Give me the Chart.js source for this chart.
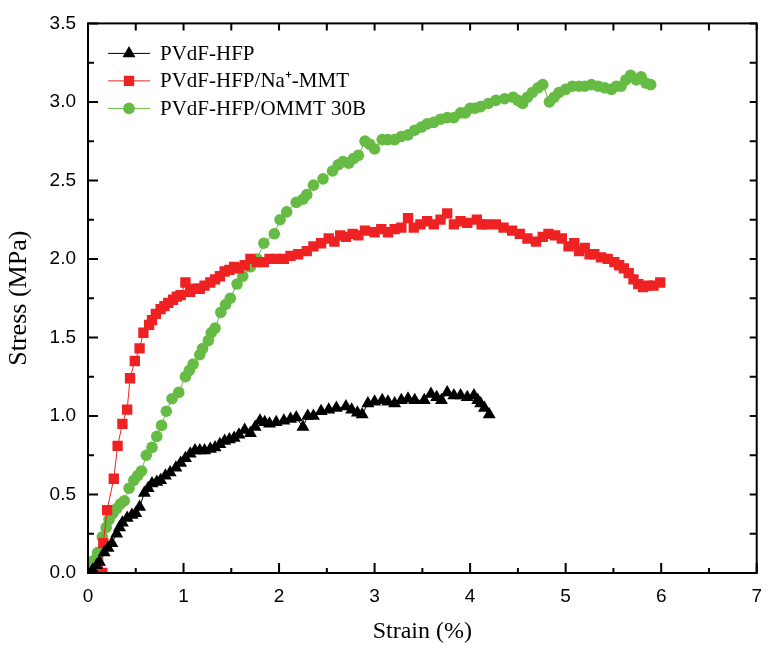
<!DOCTYPE html>
<html>
<head>
<meta charset="utf-8">
<script src="https://cdn.jsdelivr.net/npm/chart.js@4.4.0/dist/chart.umd.min.js"></script>
<style>
  body { margin: 0; background: #fff; }
  #wrap { width: 774px; height: 651px; }
</style>
</head>
<body>
<div id="wrap"><canvas id="stressChart"></canvas></div>
<script>
// Stress-strain curves
const seriesNames = ['PVdF-HFP', 'PVdF-HFP/Na\u207A-MMT', 'PVdF-HFP/OMMT 30B'];

const pvdfStrain = [0.03, 0.05, 0.09, 0.12, 0.17, 0.21, 0.25, 0.30, 0.33, 0.36, 0.41, 0.46, 0.50, 0.54, 0.59, 0.63, 0.67, 0.72, 0.76, 0.81,
  0.86, 0.92, 0.97, 1.02, 1.07, 1.12, 1.17, 1.22, 1.28, 1.33, 1.38, 1.43, 1.48, 1.53, 1.58, 1.64, 1.70, 1.75, 1.80, 1.85,
  1.90, 1.97, 2.05, 2.12, 2.18, 2.25, 2.30, 2.36, 2.44, 2.52, 2.60, 2.70, 2.76, 2.82, 2.87, 2.93, 3.00, 3.08, 3.14, 3.21,
  3.28, 3.35, 3.42, 3.52, 3.59, 3.65, 3.70, 3.76, 3.83, 3.90, 3.97, 4.04, 4.08, 4.11, 4.15, 4.20];
const pvdfStress = [0.00, 0.02, 0.05, 0.07, 0.13, 0.16, 0.19, 0.25, 0.29, 0.32, 0.35, 0.37, 0.38, 0.42, 0.51, 0.54, 0.57, 0.58, 0.59, 0.62,
  0.64, 0.67, 0.70, 0.73, 0.76, 0.78, 0.78, 0.78, 0.79, 0.80, 0.82, 0.84, 0.85, 0.86, 0.88, 0.91, 0.89, 0.93, 0.97, 0.96,
  0.95, 0.96, 0.97, 0.98, 0.99, 0.93, 1.00, 1.00, 1.03, 1.04, 1.05, 1.06, 1.04, 1.02, 1.01, 1.08, 1.09, 1.10, 1.09, 1.08,
  1.10, 1.11, 1.10, 1.10, 1.14, 1.12, 1.10, 1.15, 1.13, 1.13, 1.12, 1.13, 1.10, 1.08, 1.05, 1.01];

const naStrain = [0.15, 0.16, 0.20, 0.27, 0.31, 0.36, 0.41, 0.44, 0.49, 0.54, 0.58, 0.64, 0.67, 0.71, 0.76, 0.80, 0.84, 0.89, 0.93, 0.97,
  1.02, 1.07, 1.12, 1.17, 1.22, 1.28, 1.33, 1.38, 1.43, 1.48, 1.53, 1.58, 1.64, 1.70, 1.77, 1.84, 1.90, 1.97, 2.05, 2.12,
  2.20, 2.29, 2.36, 2.44, 2.52, 2.58, 2.64, 2.70, 2.77, 2.83, 2.90, 3.00, 3.07, 3.14, 3.21, 3.28, 3.35, 3.41, 3.48, 3.55,
  3.62, 3.69, 3.76, 3.83, 3.90, 3.97, 4.07, 4.12, 4.17, 4.27, 4.35, 4.44, 4.52, 4.60, 4.69, 4.76, 4.82, 4.89, 4.96, 5.03,
  5.09, 5.14, 5.20, 5.25, 5.30, 5.37, 5.44, 5.51, 5.56, 5.61, 5.66, 5.71, 5.76, 5.81, 5.86, 5.92, 5.99];
const naStress = [0.00, 0.19, 0.40, 0.60, 0.81, 0.95, 1.04, 1.24, 1.35, 1.43, 1.53, 1.58, 1.61, 1.65, 1.68, 1.70, 1.72, 1.74, 1.76, 1.77,
  1.85, 1.79, 1.81, 1.81, 1.83, 1.85, 1.87, 1.89, 1.92, 1.93, 1.95, 1.94, 1.96, 2.00, 1.98, 1.98, 2.00, 2.00, 2.00, 2.02,
  2.03, 2.05, 2.08, 2.10, 2.13, 2.11, 2.15, 2.14, 2.16, 2.15, 2.18, 2.17, 2.19, 2.17, 2.19, 2.20, 2.26, 2.20, 2.22, 2.24,
  2.22, 2.25, 2.29, 2.22, 2.24, 2.23, 2.25, 2.22, 2.22, 2.22, 2.20, 2.18, 2.16, 2.13, 2.11, 2.14, 2.16, 2.15, 2.13, 2.08,
  2.10, 2.05, 2.07, 2.03, 2.03, 2.01, 2.00, 1.98, 1.96, 1.94, 1.91, 1.87, 1.84, 1.82, 1.83, 1.83, 1.85];

const ommtStrain = [0.02, 0.06, 0.10, 0.15, 0.19, 0.22, 0.26, 0.30, 0.34, 0.38, 0.43, 0.48, 0.52, 0.56, 0.61, 0.67, 0.72, 0.77, 0.82, 0.88,
  0.95, 1.02, 1.06, 1.10, 1.17, 1.20, 1.26, 1.29, 1.33, 1.39, 1.44, 1.49, 1.56, 1.62, 1.70, 1.77, 1.84, 1.95, 2.01, 2.08,
  2.18, 2.25, 2.29, 2.36, 2.46, 2.56, 2.62, 2.67, 2.73, 2.78, 2.83, 2.90, 2.95, 3.00, 3.08, 3.14, 3.21, 3.28, 3.35, 3.42,
  3.49, 3.55, 3.62, 3.69, 3.76, 3.83, 3.90, 3.95, 4.00, 4.05, 4.11, 4.19, 4.27, 4.36, 4.45, 4.50, 4.55, 4.60, 4.65, 4.71,
  4.76, 4.83, 4.88, 4.93, 5.00, 5.07, 5.14, 5.20, 5.27, 5.34, 5.41, 5.48, 5.53, 5.58, 5.63, 5.68, 5.74, 5.79, 5.84, 5.89];
const ommtStress = [0.02, 0.08, 0.13, 0.23, 0.29, 0.34, 0.38, 0.41, 0.44, 0.46, 0.54, 0.59, 0.62, 0.65, 0.75, 0.80, 0.87, 0.94, 1.03, 1.11,
  1.15, 1.25, 1.29, 1.33, 1.39, 1.43, 1.48, 1.53, 1.56, 1.66, 1.71, 1.75, 1.84, 1.89, 1.95, 2.00, 2.10, 2.16, 2.25, 2.30,
  2.36, 2.38, 2.41, 2.47, 2.51, 2.56, 2.60, 2.62, 2.61, 2.64, 2.66, 2.75, 2.73, 2.70, 2.76, 2.76, 2.76, 2.78, 2.79, 2.82,
  2.84, 2.86, 2.87, 2.89, 2.90, 2.90, 2.93, 2.93, 2.96, 2.96, 2.97, 2.99, 3.01, 3.02, 3.03, 3.01, 2.99, 3.03, 3.06, 3.09,
  3.11, 3.00, 3.03, 3.06, 3.08, 3.10, 3.10, 3.10, 3.11, 3.10, 3.09, 3.08, 3.10, 3.10, 3.14, 3.17, 3.14, 3.16, 3.12, 3.11];

const toPoints = (xs, ys) => xs.map((v, i) => ({ x: v, y: ys[i] }));

// box frame with inward ticks on all four sides
const framePlugin = {
  id: 'frame',
  afterDatasetsDraw(chart) {
    const { ctx, chartArea: a, scales: { x, y } } = chart;
    ctx.save();
    ctx.strokeStyle = '#000';
    ctx.lineWidth = 2;
    ctx.strokeRect(a.left, a.top, a.right - a.left, a.bottom - a.top);
    ctx.beginPath();
    for (let v = 0; v <= 7.001; v += 0.5) {
      const px = x.getPixelForValue(v);
      const len = Math.abs(v % 1) < 0.01 ? 10 : 5;
      ctx.moveTo(px, a.bottom); ctx.lineTo(px, a.bottom - len);
      ctx.moveTo(px, a.top); ctx.lineTo(px, a.top + 7);
    }
    for (let v = 0; v <= 3.501; v += 0.25) {
      const py = y.getPixelForValue(v);
      const len = Math.abs((v * 2) % 1) < 0.01 ? 10 : 6;
      ctx.moveTo(a.left, py); ctx.lineTo(a.left + len, py);
      ctx.moveTo(a.right, py); ctx.lineTo(a.right - 7, py);
    }
    ctx.stroke();
    ctx.restore();
  }
};

// legend drawn inside the plot, line-marker-line samples
const insideLegend = {
  id: 'insideLegend',
  afterDatasetsDraw(chart) {
    const { ctx, chartArea: a } = chart;
    ctx.save();
    ctx.font = '21px "Liberation Serif", "Times New Roman", serif';
    ctx.textBaseline = 'middle';
    chart.data.datasets.forEach((ds, i) => {
      const yy = a.top + 30 + i * 27.5;
      const x0 = a.left + 20;
      ctx.strokeStyle = ds.borderColor;
      ctx.lineWidth = 1;
      ctx.beginPath();
      ctx.moveTo(x0, yy); ctx.lineTo(x0 + 42, yy);
      ctx.stroke();
      ctx.fillStyle = ds.backgroundColor;
      Chart.helpers.drawPoint(ctx, { pointStyle: ds.pointStyle, radius: ds.pointRadius, rotation: 0, borderWidth: 0 }, x0 + 21, yy);
      ctx.fillStyle = '#000';
      ctx.fillText(ds.label, x0 + 52, yy + 1);
    });
    ctx.restore();
  }
};

const ctx1 = document.getElementById('stressChart').getContext('2d');
new Chart(ctx1, {
  type: 'scatter',
  data: {
    datasets: [{
      label: seriesNames[0],
      data: toPoints(pvdfStrain, pvdfStress),
      showLine: true,
      borderColor: '#000000',
      backgroundColor: '#000000',
      borderWidth: 1,
      pointStyle: 'triangle',
      pointRadius: 7.5,
      pointBorderWidth: 0
    }, {
      label: seriesNames[1],
      data: toPoints(naStrain, naStress),
      showLine: true,
      borderColor: '#ee2222',
      backgroundColor: '#ee2222',
      borderWidth: 1,
      pointStyle: 'rect',
      pointRadius: 7.3,
      pointBorderWidth: 0
    }, {
      label: seriesNames[2],
      data: toPoints(ommtStrain, ommtStress),
      showLine: true,
      borderColor: '#66bb44',
      backgroundColor: '#66bb44',
      borderWidth: 1,
      pointStyle: 'circle',
      pointRadius: 5.8,
      pointBorderWidth: 0
    }]
  },
  options: {
    responsive: true,
    maintainAspectRatio: false,
    animation: false,
    layout: { padding: { top: 21, right: 6, left: 0, bottom: 0 } },
    plugins: {
      legend: { display: false },
      tooltip: { enabled: false }
    },
    scales: {
      x: {
        type: 'linear',
        min: 0,
        max: 7,
        ticks: {
          stepSize: 1,
          color: '#000',
          padding: 12,
          font: { family: '"Liberation Sans", Arial, sans-serif', size: 19 }
        },
        grid: { display: false, drawTicks: false },
        border: { display: false },
        title: {
          display: true,
          text: 'Strain (%)',
          color: '#000',
          font: { family: '"Liberation Serif", "Times New Roman", serif', size: 24 },
          padding: { top: 0, bottom: 5 }
        },
        afterFit(scale) { scale.height = 78; }
      },
      y: {
        type: 'linear',
        min: 0,
        max: 3.5,
        ticks: {
          stepSize: 0.5,
          color: '#000',
          padding: 12,
          font: { family: '"Liberation Sans", Arial, sans-serif', size: 19 },
          callback: v => v.toFixed(1)
        },
        grid: { display: false, drawTicks: false },
        border: { display: false },
        title: {
          display: true,
          text: 'Stress (MPa)',
          color: '#000',
          font: { family: '"Liberation Serif", "Times New Roman", serif', size: 26 },
          padding: { top: 4, bottom: 0 }
        },
        afterFit(scale) { scale.width = 88; }
      }
    }
  },
  plugins: [framePlugin, insideLegend]
});
</script>
</body>
</html>
